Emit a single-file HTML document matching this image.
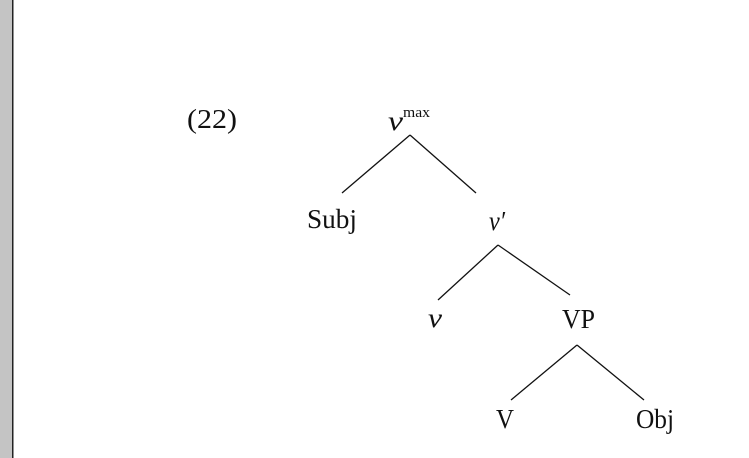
<!DOCTYPE html>
<html><head><meta charset="utf-8"><style>
html,body{margin:0;padding:0;background:#fff;}
svg{display:block}
text{font-family:"Liberation Serif",serif;fill:#111;}
</style></head><body>
<svg width="749" height="458" viewBox="0 0 749 458">
<rect x="0" y="0" width="12" height="458" fill="#c4c4c4"/>
<rect x="12" y="0" width="1.5" height="458" fill="#222"/>
<g stroke="#111" stroke-width="1.3" fill="none">
<line x1="410" y1="135" x2="342" y2="193"/>
<line x1="410" y1="135" x2="476" y2="193"/>
<line x1="498" y1="245" x2="438" y2="300"/>
<line x1="498" y1="245" x2="570" y2="295"/>
<line x1="577" y1="345" x2="511" y2="400"/>
<line x1="577" y1="345" x2="644" y2="400"/>
</g>
<text x="187" y="128" font-size="27" textLength="50" lengthAdjust="spacingAndGlyphs">(22)</text>
<text x="388" y="130" font-size="27" font-style="italic" textLength="15" lengthAdjust="spacingAndGlyphs">v</text>
<text x="403" y="117" font-size="15" textLength="27" lengthAdjust="spacingAndGlyphs">max</text>
<text x="307" y="228" font-size="27" textLength="50" lengthAdjust="spacingAndGlyphs">Subj</text>
<text x="489" y="230" font-size="27" font-style="italic" textLength="16" lengthAdjust="spacingAndGlyphs">v′</text>
<text x="428" y="327" font-size="27" font-style="italic" textLength="14" lengthAdjust="spacingAndGlyphs">v</text>
<text x="562" y="328" font-size="27" textLength="33" lengthAdjust="spacingAndGlyphs">VP</text>
<text x="496" y="428" font-size="27" textLength="18" lengthAdjust="spacingAndGlyphs">V</text>
<text x="636" y="428" font-size="27" textLength="38" lengthAdjust="spacingAndGlyphs">Obj</text>
</svg>
</body></html>
